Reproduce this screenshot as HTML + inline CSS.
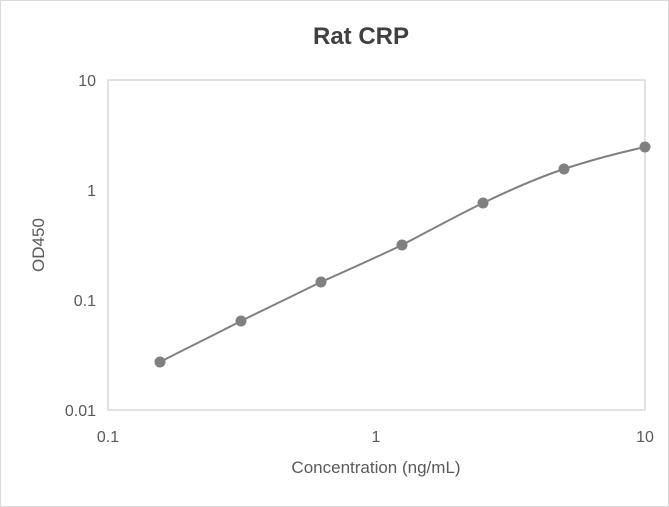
<!DOCTYPE html>
<html><head><style>
body{margin:0;background:#fff}
svg{display:block;font-family:"Liberation Sans",sans-serif}
</style></head><body>
<svg width="669" height="507" viewBox="0 0 669 507">
<rect x="0.5" y="0.5" width="668" height="506" fill="#fff" stroke="#d9d9d9"/>
<text x="361" y="44" text-anchor="middle" font-size="24" font-weight="bold" fill="#404040">Rat CRP</text>
<rect x="108" y="80" width="537" height="330" fill="none" stroke="#d9d9d9" stroke-width="1.5"/>
<g font-size="16" fill="#595959" text-anchor="end">
<text x="96" y="86">10</text>
<text x="96" y="196">1</text>
<text x="96" y="306">0.1</text>
<text x="96" y="416">0.01</text>
</g>
<g font-size="16" fill="#595959" text-anchor="middle">
<text x="108" y="442">0.1</text>
<text x="376" y="442">1</text>
<text x="645" y="442">10</text>
</g>
<text x="376" y="473" text-anchor="middle" font-size="17" fill="#595959">Concentration (ng/mL)</text>
<text transform="translate(44,245) rotate(-90)" text-anchor="middle" font-size="17" fill="#595959">OD450</text>
<path d="M160,362 C187,348 214,335 241,321 C268,308 294,295 321,282 C348,270 375,258 402,245 C429,231 456,216 483,203 C510,190 537,178 564,169 C591,160 618,153 645,147" fill="none" stroke="#808080" stroke-width="2"/>
<g fill="#808080">
<circle cx="160" cy="362" r="5.5"/><circle cx="241" cy="321" r="5.5"/><circle cx="321" cy="282" r="5.5"/>
<circle cx="402" cy="245" r="5.5"/><circle cx="483" cy="203" r="5.5"/><circle cx="564" cy="169" r="5.5"/>
<circle cx="645" cy="147" r="5.5"/>
</g>
</svg>
</body></html>
